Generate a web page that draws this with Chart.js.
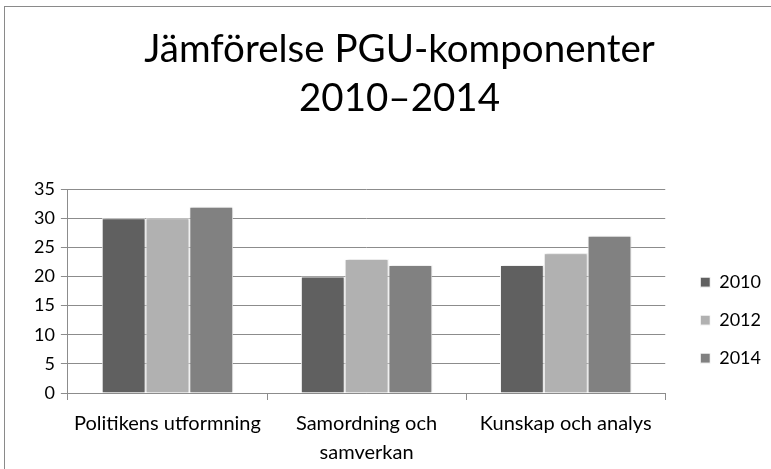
<!DOCTYPE html>
<html>
<head>
<meta charset="utf-8">
<script src="https://cdn.jsdelivr.net/npm/chart.js@4"></script>
<style>
  html, body { margin: 0; padding: 0; background: #fff; overflow: hidden; }
  #frame { position: absolute; left: 4px; top: 6px; width: 820px; height: 520px; border: 1px solid #8a8a8a; }
  #wrap { position: absolute; left: 0; top: 0; width: 771px; height: 478px; }
</style>
</head>
<body>
<div id="frame"></div>
<div id="wrap"><canvas id="chart"></canvas></div>
<script>
  const categories = [['Politikens utformning'], ['Samordning och', 'samverkan'], ['Kunskap och analys']];
  const years = ['2010', '2012', '2014'];
  const values2010 = [30, 20, 22];
  const values2012 = [30, 23, 24];
  const values2014 = [32, 22, 27];
  const yTicks = [0, 5, 10, 15, 20, 25, 30, 35];

  const colors = ['#606060', '#b1b1b1', '#818181'];
  const series = [values2010, values2012, values2014];
  const fam = 'Lato, "Open Sans", sans-serif';
  const gridCol = '#8c8c8c';

  // soft glow around the bars, like the original
  const barShadow = {
    id: 'barShadow',
    beforeDatasetsDraw(chart) {
      const ctx = chart.ctx;
      ctx.save();
      ctx.shadowColor = 'rgba(0,0,0,0.22)';
      ctx.shadowBlur = 3;
      ctx.shadowOffsetX = 1;
      ctx.shadowOffsetY = 0;
    },
    afterDatasetsDraw(chart) {
      chart.ctx.restore();
    }
  };

  new Chart(document.getElementById('chart'), {
    type: 'bar',
    data: {
      labels: categories,
      datasets: series.map((vals, i) => ({
        label: years[i],
        data: vals,
        backgroundColor: colors[i],
        borderColor: '#ffffff',
        borderWidth: 1,
        barPercentage: 1,
        categoryPercentage: 0.66
      }))
    },
    options: {
      responsive: true,
      maintainAspectRatio: false,
      animation: false,
      layout: { padding: { left: 28, right: 0, top: 26, bottom: 2 } },
      plugins: {
        title: {
          display: true,
          text: ['Jämförelse PGU-komponenter', '2010–2014'],
          color: '#000',
          font: { family: fam, size: 38.5, weight: 'normal', lineHeight: 1.25 },
          padding: { top: 0, bottom: 67 }
        },
        legend: {
          position: 'right',
          fullSize: false,
          title: {
            display: true,
            text: ' ',
            font: { family: fam, size: 18, lineHeight: 1 },
            padding: { top: 0, bottom: 40 }
          },
          labels: {
            color: '#000',
            font: { family: fam, size: 18 },
            boxWidth: 10,
            boxHeight: 10,
            padding: 20
          }
        },
        tooltip: { enabled: false }
      },
      scales: {
        x: {
          grid: { drawOnChartArea: false, drawTicks: true, tickLength: 7, color: gridCol },
          border: { display: true, color: gridCol },
          ticks: { color: '#000', font: { family: fam, size: 20, lineHeight: 1.45 }, padding: 9, maxRotation: 0 }
        },
        y: {
          min: 0,
          max: 35,
          afterBuildTicks: axis => { axis.ticks = yTicks.map(v => ({ value: v })); },
          grid: { color: gridCol, tickLength: 7 },
          border: { display: true, color: gridCol },
          ticks: { color: '#000', font: { family: fam, size: 18 }, padding: 6 }
        },
        gap: {
          position: 'right',
          display: true,
          grid: { display: false },
          border: { display: false },
          ticks: { display: false },
          afterFit: s => { s.width = 15; }
        }
      }
    },
    plugins: [barShadow]
  });
</script>
</body>
</html>
